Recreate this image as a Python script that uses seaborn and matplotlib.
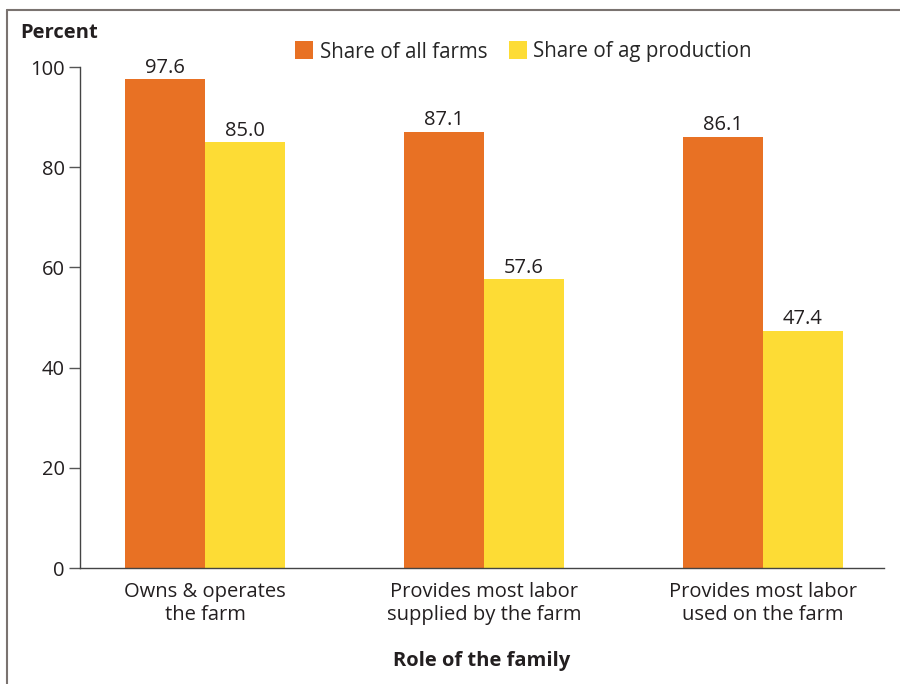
import matplotlib
matplotlib.use("Agg")
import matplotlib.pyplot as plt
import seaborn as sns
import pandas as pd
from matplotlib.lines import Line2D

categories = ["Owns & operates\nthe farm", "Provides most labor\nsupplied by the farm", "Provides most labor\nused on the farm"]
share_all_farms = [97.6, 87.1, 86.1]
share_ag_production = [85.0, 57.6, 47.4]
series_names = ["Share of all farms", "Share of ag production"]
y_ticks = [0, 20, 40, 60, 80, 100]

df = pd.DataFrame({
    "category": categories * 2,
    "series": [series_names[0]] * 3 + [series_names[1]] * 3,
    "value": share_all_farms + share_ag_production,
})

sns.set_theme(style="white")
plt.rcParams["font.family"] = ["Open Sans", "DejaVu Sans"]
text_color = "#231f20"
fs = 14.5

fig = plt.figure(figsize=(9, 6.84), dpi=100)
ax = fig.add_axes([80/900, 116/684, (884-80)/900, 501/684])

colors = ["#e87124", "#fddc35"]
sns.barplot(data=df, x="category", y="value", hue="series", palette=colors,
            width=0.573, saturation=1, ax=ax, legend=False, errorbar=None,
            linewidth=0, edgecolor="none")

for c in ax.containers:
    ax.bar_label(c, fmt="%.1f", padding=1, fontsize=fs, color=text_color)

ax.set_ylim(0, 100)
ax.set_xlim(-0.448, 2.434)
ax.set_yticks(y_ticks)
ax.set_yticklabels([str(t) for t in y_ticks], fontsize=fs, color=text_color)
ax.tick_params(axis="y", left=True, length=8, width=1, color="#555555", pad=3)
ax.tick_params(axis="x", bottom=False, labelsize=fs, labelcolor=text_color, pad=4)
for lbl in ax.get_xticklabels():
    lbl.set_linespacing(1.2)
ax.set_xlabel("Role of the family", fontsize=fs, fontweight="bold", color=text_color, labelpad=19)
ax.set_ylabel("")
for s in ["top", "right"]:
    ax.spines[s].set_visible(False)
for s in ["left", "bottom"]:
    ax.spines[s].set_color("#444444")
    ax.spines[s].set_linewidth(1)

fig.text(20/900, 1 - 33/684, "Percent", fontsize=fs, fontweight="bold",
         color=text_color, va="center", ha="left")

handles = [Line2D([0], [0], marker="s", linestyle="none", markersize=13,
                  markerfacecolor=c, markeredgewidth=0) for c in colors]
fig.legend(handles, series_names, loc="center left", bbox_to_anchor=(294/900, 1 - 52/684),
           ncol=2, frameon=False, fontsize=14.8, handletextpad=0.25, columnspacing=1.0,
           borderaxespad=0, borderpad=0, handlelength=1)

frame_color = "#7a7370"
fig.add_artist(Line2D([7/900, 1.0], [1 - 10/684, 1 - 10/684], color=frame_color, lw=1.5,
                      transform=fig.transFigure))
fig.add_artist(Line2D([7/900, 7/900], [0, 1 - 10/684], color=frame_color, lw=1.5,
                      transform=fig.transFigure))

fig.savefig("out.png", dpi=100)
